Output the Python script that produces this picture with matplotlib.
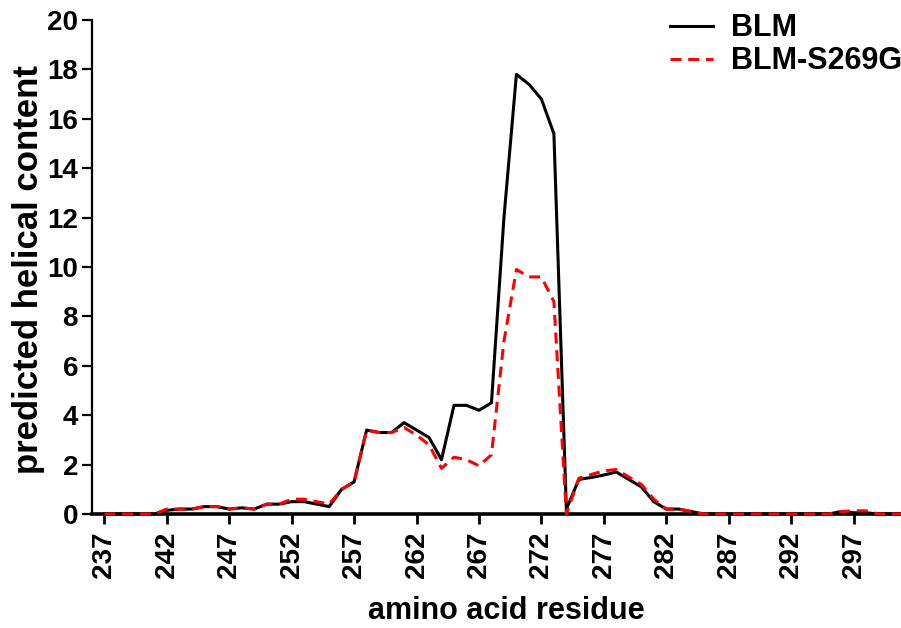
import matplotlib.pyplot as plt

plt.rcParams['font.family'] = ['Liberation Sans', 'DejaVu Sans']
plt.rcParams['font.weight'] = 'bold'

residues = list(range(237, 302))
blm = [0, 0, 0, 0, 0,
       0.15, 0.2, 0.2, 0.3, 0.3,
       0.2, 0.25, 0.2, 0.4, 0.4,
       0.5, 0.5, 0.4, 0.3, 1.0,
       1.3, 3.4, 3.3, 3.3, 3.7,
       3.4, 3.1, 2.2, 4.4, 4.4,
       4.2, 4.5, 12.0, 17.8, 17.4,
       16.8, 15.4, 0.2, 1.4, 1.48,
       1.58, 1.7, 1.4, 1.1, 0.5,
       0.2, 0.2, 0.1, 0, 0,
       0, 0, 0, 0, 0,
       0, 0, 0, 0, 0.1,
       0.05, 0.05, 0, 0, 0]
blm_s269g = [0, 0, 0, 0, 0,
             0.2, 0.2, 0.2, 0.3, 0.3,
             0.2, 0.25, 0.2, 0.4, 0.4,
             0.6, 0.6, 0.5, 0.4, 1.0,
             1.3, 3.4, 3.3, 3.3, 3.5,
             3.2, 2.8, 1.85, 2.3, 2.2,
             1.95, 2.4, 7.0, 9.9, 9.6,
             9.6, 8.6, 0, 1.45, 1.6,
             1.75, 1.8, 1.5, 1.2, 0.6,
             0.2, 0.2, 0.1, 0, 0,
             0, 0, 0, 0, 0,
             0, 0, 0, 0, 0.1,
             0.13, 0.13, 0, 0, 0]
xticks = list(range(237, 298, 5))
yticks = list(range(0, 21, 2))

fig = plt.figure(figsize=(9.01, 6.28), dpi=100)
ax = fig.add_axes([0.102, 0.1815, 0.898, 0.7866])

ax.plot(residues, blm, color='black', lw=2.2, label='BLM', clip_on=False, zorder=3)
ax.plot(residues, blm_s269g, color='red', lw=2.2, ls=(0, (3.6, 2.2)), label='BLM-S269G',
        clip_on=False, zorder=4)

ax.set_xlim(236, 300.8)
ax.set_ylim(0, 20)
ax.set_xticks(xticks)
ax.set_yticks(yticks)
ax.tick_params(axis='x', labelrotation=90, labelsize=20, length=7.5, width=2, pad=5)
ax.tick_params(axis='y', labelsize=20, length=7, width=1.6, pad=3)
for lab in ax.get_xticklabels() + ax.get_yticklabels():
    lab.set_fontweight('bold')

ax.spines['top'].set_visible(False)
ax.spines['right'].set_visible(False)
ax.spines['bottom'].set_linewidth(2.6)
ax.spines['left'].set_linewidth(1.6)

ax.set_xlabel('amino acid residue', fontsize=22, fontweight='bold')
ax.set_ylabel('predicted helical content', fontsize=25, fontweight='bold')
ax.xaxis.set_label_coords(0.512, -0.165)
ax.yaxis.set_label_coords(-0.058, 0.495)

leg = ax.legend(loc='upper right', bbox_to_anchor=(1.028, 1.057), frameon=False,
                prop={'size': 22, 'weight': 'bold'}, handlelength=1.4,
                handletextpad=0.6, labelspacing=0.1, borderpad=0.2)

fig.savefig('out.png', dpi=100)
